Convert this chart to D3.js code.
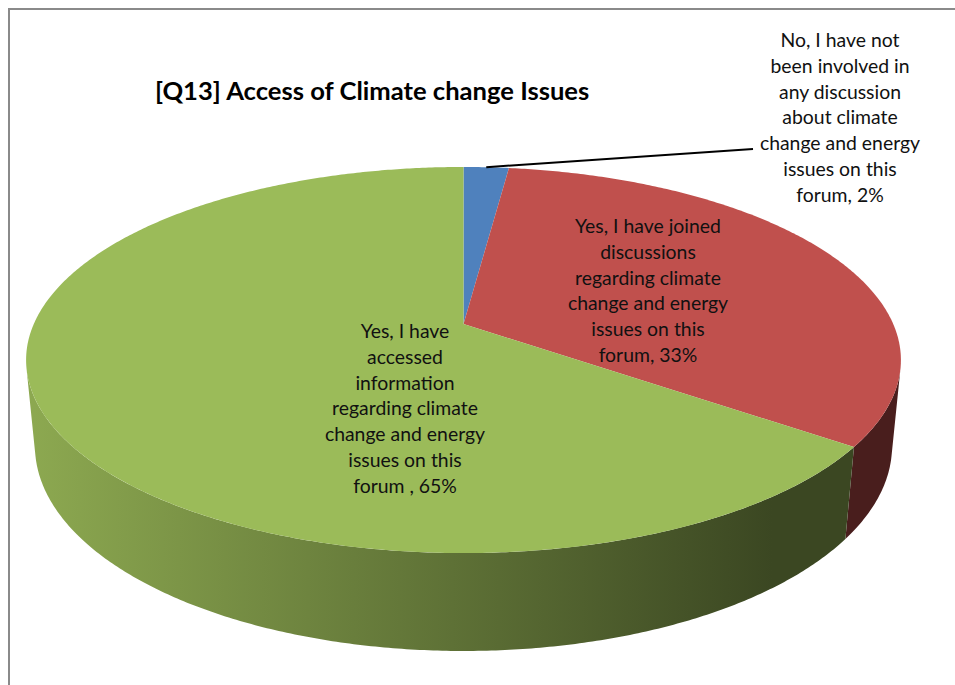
<!DOCTYPE html>
<html>
<head>
<meta charset="utf-8">
<script src="https://cdn.jsdelivr.net/npm/d3@7"></script>
<style>
  body { margin: 0; background: #fff; }
  text { font-family: Lato, "Noto Sans", sans-serif; fill: #111; }
</style>
</head>
<body>
<svg id="chart" width="955" height="685"></svg>
<script>
// ---- data ----
const chartTitle = "[Q13] Access of Climate change Issues";
const categories = [
  "No, I have not been involved in any discussion about climate change and energy issues on this forum",
  "Yes, I have joined discussions regarding climate change and energy issues on this forum",
  "Yes, I have accessed information regarding climate change and energy issues on this forum "
];
const values = [2, 33, 65];
const sliceColors = ["#4F81BD", "#C0504D", "#9BBB59"];
// how each category name is broken onto lines inside its label
const categoryLines = [
  ["No, I have not", "been involved in", "any discussion", "about climate", "change and energy", "issues on this", "forum"],
  ["Yes, I have joined", "discussions", "regarding climate", "change and energy", "issues on this", "forum"],
  ["Yes, I have", "accessed", "information", "regarding climate", "change and energy", "issues on this", "forum "]
];

// ---- layout ----
const W = 955, H = 685;
const labelLayout = [
  { x: 840, y: 47, leader: [753, 149] },
  { x: 648, y: 233 },
  { x: 405, y: 338 }
];
const lineStep = 25.8;

const svg = d3.select("#chart");

// chart area frame
svg.append("rect")
  .attr("x", 9).attr("y", 9)
  .attr("width", W + 20).attr("height", H + 20)
  .attr("fill", "#fff")
  .attr("stroke", "#8a8a8a").attr("stroke-width", 2);

// ---- 3D pie projection (perspective camera looking down on a unit disc) ----
const cam = {
  cx: 463.5, cy: 324,      // screen position of the disc centre
  focal: 2076,             // focal length in px
  dist: 4.831,             // camera distance in disc radii
  sinA: 0.4336             // sine of elevation angle
};
cam.cosA = Math.sqrt(1 - cam.sinA * cam.sinA);
const thickness = 0.2226;  // disc height in radii

function project(theta, r, h) {
  const X = r * Math.sin(theta), Z = r * Math.cos(theta);
  const depth = cam.dist + Z * cam.cosA - h * cam.sinA;
  const up = h * cam.cosA + Z * cam.sinA;
  return [cam.cx + cam.focal * X / depth, cam.cy - cam.focal * up / depth];
}

const pie = d3.pie().sort(null).value(d => d).startAngle(0).endAngle(2 * Math.PI);
const arcs = pie(values);

function sampleArc(a0, a1, h) {
  const n = Math.max(2, Math.ceil(Math.abs(a1 - a0) / (Math.PI / 360)));
  return d3.range(n + 1).map(i => project(a0 + (a1 - a0) * i / n, 1, h));
}

// rim is facing the camera where cos(theta) < -1/(dist*cosA)
const limit = Math.acos(-1 / (cam.dist * cam.cosA));
const visLo = limit, visHi = 2 * Math.PI - limit;

// horizontal shading gradients for the rim
const defs = svg.append("defs");
const rimLeft = project(-Math.PI / 2, 1, 0)[0], rimRight = project(Math.PI / 2, 1, 0)[0];
sliceColors.forEach((c, i) => {
  const base = d3.rgb(c);
  const shade = k => d3.rgb(base.r * k, base.g * k, base.b * k).formatHex();
  const g = defs.append("linearGradient")
    .attr("id", "rim" + i)
    .attr("gradientUnits", "userSpaceOnUse")
    .attr("x1", rimLeft).attr("x2", rimRight).attr("y1", 0).attr("y2", 0);
  g.append("stop").attr("offset", 0).attr("stop-color", shade(0.9));
  g.append("stop").attr("offset", 0.86).attr("stop-color", shade(0.38));
  g.append("stop").attr("offset", 1).attr("stop-color", shade(0.38));
});

const line = d3.line();

// rim walls
const rimG = svg.append("g");
arcs.forEach((a, i) => {
  const lo = Math.max(a.startAngle, visLo), hi = Math.min(a.endAngle, visHi);
  if (lo >= hi) return;
  const pts = sampleArc(lo, hi, 0).concat(sampleArc(hi, lo, -thickness));
  rimG.append("path")
    .attr("d", line(pts) + "Z")
    .attr("fill", `url(#rim${i})`);
});

// top faces
const topG = svg.append("g");
const centre = project(0, 0, 0);
arcs.forEach((a, i) => {
  const pts = [centre].concat(sampleArc(a.startAngle, a.endAngle, 0));
  topG.append("path")
    .attr("d", line(pts) + "Z")
    .attr("fill", sliceColors[i]);
});

// title
svg.append("text")
  .attr("x", 155).attr("y", 100)
  .attr("font-size", 25.6)
  .attr("font-weight", "bold")
  .style("fill", "#000")
  .text(chartTitle);

// data labels
const labelG = svg.append("g");
arcs.forEach((a, i) => {
  const L = labelLayout[i];
  const lines = categoryLines[i].slice();
  lines[lines.length - 1] = lines[lines.length - 1] + ", " + values[i] + "%";
  if (L.leader) {
    const mid = (a.startAngle + a.endAngle) / 2;
    const p = project(mid, 1, 0);
    labelG.append("path")
      .attr("d", line([p, L.leader]))
      .attr("stroke", "#000").attr("stroke-width", 2).attr("fill", "none");
  }
  const t = labelG.append("text")
    .attr("text-anchor", "middle")
    .attr("font-size", 19.4);
  lines.forEach((s, k) => {
    t.append("tspan").attr("x", L.x).attr("y", L.y + k * lineStep).text(s);
  });
});
</script>
</body>
</html>
